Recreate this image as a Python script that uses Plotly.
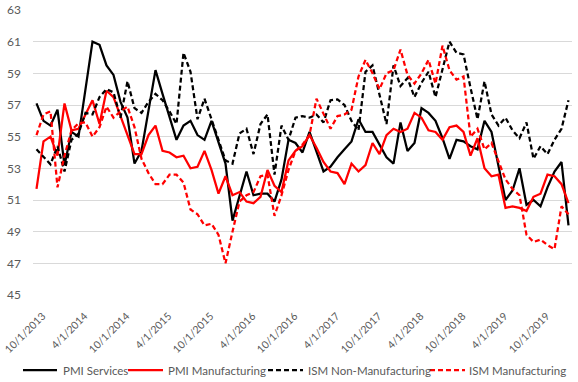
import plotly.graph_objects as go
import pandas as pd

dates = pd.date_range("2013-10-01", periods=77, freq="MS")
date_labels = [f"{d.month}/{d.day}/{d.year}" for d in dates]

pmi_services = [57.1, 56.0, 55.7, 56.7, 53.2, 55.3, 55.0, 58.0, 61.0, 60.8, 59.5, 58.9, 57.2,
                56.2, 53.3, 54.1, 56.7, 59.2, 57.7, 56.3, 54.8, 55.7, 56.0, 55.1, 54.8, 56.0,
                54.6, 53.3, 49.7, 51.3, 52.8, 51.3, 51.4, 51.4, 50.9, 52.3, 54.8, 54.6, 54.0,
                55.3, 54.0, 52.8, 53.1, 53.7, 54.2, 54.7, 56.1, 55.3, 55.3, 54.5, 53.7, 53.3,
                55.9, 54.1, 54.6, 56.8, 56.5, 56.0, 54.9, 53.6, 54.8, 54.7, 54.4, 54.2,
                56.0, 55.3, 53.1, 51.0, 51.6, 53.0, 50.7, 51.0, 50.6, 51.8, 52.8, 53.4, 49.4]

pmi_manufacturing = [51.7, 54.7, 55.0, 53.8, 57.1, 55.4, 55.5, 56.4, 57.3, 55.8, 57.9, 57.5, 56.3,
                     55.0, 53.9, 53.9, 55.1, 55.7, 54.1, 54.0, 53.7, 53.8, 53.0, 53.1, 54.1, 52.9,
                     51.4, 52.5, 51.3, 51.5, 50.9, 50.8, 51.2, 52.9, 51.9, 51.5, 53.5, 54.1, 54.4,
                     55.1, 54.3, 53.4, 52.8, 52.7, 52.0, 53.3, 52.8, 53.2, 54.6, 53.9, 55.1, 55.5,
                     55.3, 55.5, 56.5, 56.2, 55.4, 55.3, 54.8, 55.6, 55.7, 55.3, 53.8, 54.9,
                     53.0, 52.5, 52.6, 50.5, 50.6, 50.5, 50.3, 51.2, 51.4, 52.6, 52.5, 52.0, 50.8]

ism_non_manufacturing = [54.2, 53.7, 53.25, 54.4, 52.8, 54.8, 55.2, 56.5, 56.4, 57.5, 58.0, 57.8, 56.2,
                         58.5, 56.8, 56.5, 57.2, 57.7, 57.3, 56.6, 55.8, 60.3, 59.1, 56.1, 57.4, 56.1,
                         54.8, 53.5, 53.3, 55.2, 55.5, 53.9, 55.8, 56.4, 52.6, 55.7, 54.8, 56.2, 56.3,
                         56.2, 56.4, 55.9, 57.3, 57.35, 57.0, 56.0, 55.4, 59.1, 59.5, 57.6, 55.8, 59.5,
                         58.2, 58.7, 57.5, 58.4, 59.1, 57.5, 59.2, 61.0, 60.3, 60.2, 58.1, 56.1,
                         58.5, 56.4, 55.7, 56.2, 55.4, 54.9, 55.9, 53.6, 54.4, 53.9, 54.8, 55.5, 57.3]

ism_manufacturing = [55.1, 56.4, 56.6, 51.8, 53.8, 55.4, 55.85, 55.9, 55.0, 55.6, 56.9, 56.2, 56.6,
                     56.9, 55.6, 53.6, 52.7, 52.0, 52.0, 52.6, 52.6, 52.1, 50.4, 50.1, 49.4, 49.5,
                     48.8, 47.0, 49.0, 50.9, 51.3, 51.5, 52.5, 52.6, 50.0, 51.3, 52.9, 54.1, 54.5,
                     55.1, 57.4, 56.4, 55.5, 56.3, 56.4, 56.7, 58.8, 59.85, 59.0, 58.0, 59.0, 59.2,
                     60.5, 58.9, 58.35, 59.0, 59.85, 58.35, 60.75, 59.2, 58.6, 58.8, 55.0, 55.5,
                     54.2, 54.6, 53.5, 52.3, 51.7, 51.3, 48.8, 48.35, 48.5, 48.15, 47.9, 50.6, 50.1]

y_ticks = [45, 47, 49, 51, 53, 55, 57, 59, 61, 63]

x = list(range(len(date_labels)))
tick_idx = x[::6]

DASH = "5px,3px"
series = [
    ("PMI Services", pmi_services, "#000000", "solid"),
    ("PMI Manufacturing", pmi_manufacturing, "#FF0000", "solid"),
    ("ISM Non-Manufacturing", ism_non_manufacturing, "#000000", DASH),
    ("ISM Manufacturing", ism_manufacturing, "#FF0000", DASH),
]

# plot area in pixels
W, H = 578, 382
L, R, T, B = 33, 6, 10, 87
pw, ph = W - L - R, H - T - B

def px_x(p):
    return (p - L) / pw

def px_y(p):
    return (H - B - p) / ph

fig = go.Figure()
for name, vals, col, dash in series:
    fig.add_trace(go.Scatter(x=x, y=vals, mode="lines", name=name,
                             line=dict(color=col, width=2.25, dash=dash)))

# manual legend (line sample start/end, text start) in pixels
legend_pos = [(23, 57, 61), (128, 163, 166), (268, 303, 306), (430, 465, 467)]
legend_y = 370
for (name, vals, col, dash), (x0, x1, tx) in zip(series, legend_pos):
    fig.add_shape(type="line", xref="paper", yref="paper",
                  x0=px_x(x0), x1=px_x(x1), y0=px_y(legend_y), y1=px_y(legend_y),
                  line=dict(color=col, width=2.25, dash=dash))
    fig.add_annotation(xref="paper", yref="paper", x=px_x(tx), y=px_y(legend_y),
                       text=name, showarrow=False, xanchor="left", yanchor="middle",
                       font=dict(size=11.5, color="#595959"))

fig.update_layout(
    width=W, height=H,
    margin=dict(l=L, r=R, t=T, b=B, autoexpand=False),
    paper_bgcolor="white", plot_bgcolor="white",
    font=dict(family="Lato, Open Sans, sans-serif", size=12, color="#595959"),
    showlegend=False,
)
fig.update_xaxes(range=[-0.5, len(x) - 0.5], tickmode="array", tickvals=tick_idx,
                 ticktext=[date_labels[i] for i in tick_idx], tickangle=-45,
                 tickfont=dict(size=10.5), ticklabelstandoff=12, ticklabelshift=6,
                 ticklabeloverflow="allow", automargin=False,
                 showgrid=False, zeroline=False, showline=False, ticks="")
fig.update_yaxes(range=[45, 63], tickmode="array", tickvals=y_ticks, automargin=False,
                 showgrid=True, gridcolor="#D9D9D9", gridwidth=1, zeroline=False,
                 showline=False, ticks="", ticklen=0, ticklabelstandoff=11)

fig.write_html("out.html", config={"displayModeBar": False},
               post_script="document.body.style.margin='0px';document.body.style.overflow='hidden';")
